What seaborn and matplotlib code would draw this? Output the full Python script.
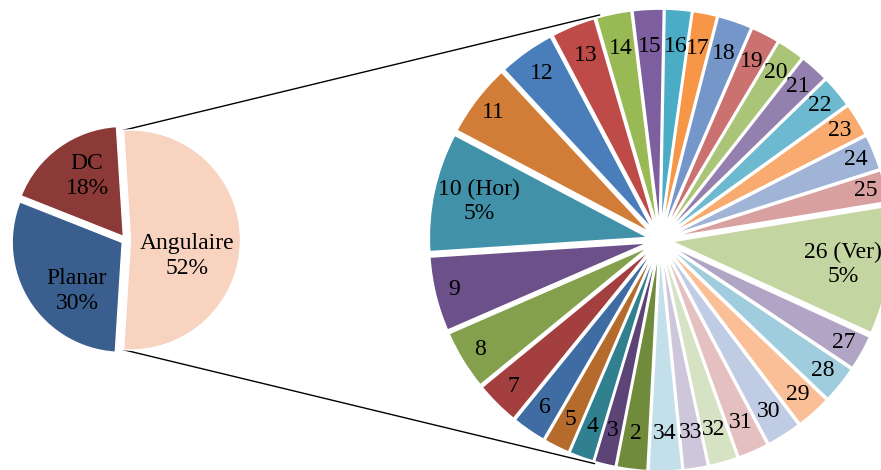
import numpy as np
import matplotlib
from matplotlib import pyplot as plt
import seaborn as sns

sns.set_style("white")
matplotlib.rcParams['font.family'] = ['Liberation Serif', 'DejaVu Serif']
matplotlib.rcParams['font.size'] = 17
matplotlib.rcParams['text.color'] = 'black'

# first pie
main_labels = ['Angulaire', 'Planar', 'DC']
main_values = [52, 30, 18]
main_colors = ['#F8D3C0', '#3A5F8E', '#8B3A38']

# second pie: the split of "Angulaire" into its items (shares in %)
sub_labels = ['2', '3', '4', '5', '6', '7', '8', '9', '10', '11', '12', '13',
              '14', '15', '16', '17', '18', '19', '20', '21', '22', '23', '24',
              '25', '26', '27', '28', '29', '30', '31', '32', '33', '34']
sub_values = [1.16, 0.81, 0.94, 1.00, 1.30, 1.68, 2.28, 2.86, 4.56, 2.79, 2.15,
              1.69, 1.34, 1.16, 1.01, 0.92, 1.30, 1.07, 1.05, 1.11, 1.23, 1.26,
              1.34, 1.21, 4.90, 1.33, 1.42, 1.34, 1.33, 1.17, 1.11, 0.92, 1.26]
sub_tags = {'10': 'Hor', '26': 'Ver'}
sub_colors = ['#6F8B3B', '#5C4476', '#30808F', '#B56B2C', '#3F6DA3', '#A3403F',
              '#84A04C', '#6B5089', '#4192A8', '#D27D37', '#4A7EBB', '#BE4B48',
              '#98B954', '#7D5FA0', '#4BACC6', '#F79646', '#7596C9', '#CB7271',
              '#ABC578', '#9380AF', '#6DB9CF', '#F9AA6E', '#A0B4D7', '#D9A0A0',
              '#C3D5A0', '#B1A5C6', '#A0CDDD', '#FABF96', '#C0CCE3', '#E4C0C0',
              '#D5E2C3', '#CEC6DA', '#C3E0EA']

# layout (pixels, y measured upward)
W, H = 881, 470
c1, r1, ex1 = (126, 230), 110, 4.5
c2, r2, ex2 = (660, 230), 219, 12
main_label_off = {'Angulaire': (61, -16), 'Planar': (-49, -51), 'DC': (-39, 64)}

fig = plt.figure(figsize=(W / 100, H / 100), dpi=100)
ax = fig.add_axes([0, 0, 1, 1])

# split slice centred on the right-hand side
start1 = main_values[0] / sum(main_values) * 360 / 2
w1, _ = ax.pie(main_values, colors=sns.color_palette(main_colors), center=c1,
               radius=r1, explode=[ex1] * 3, startangle=start1,
               counterclock=False,
               wedgeprops=dict(edgecolor='white', linewidth=1))
for lab, val in zip(main_labels, main_values):
    dx, dy = main_label_off[lab]
    ax.text(c1[0] + dx, c1[1] + dy, f'{lab}\n{val}%', ha='center',
            va='center')

w2, _ = ax.pie(sub_values, colors=sns.color_palette(sub_colors), center=c2,
               radius=r2, explode=[ex2] * len(sub_values), startangle=267,
               counterclock=False,
               wedgeprops=dict(edgecolor='white', linewidth=1.2))
for w, lab, val in zip(w2, sub_labels, sub_values):
    th = np.deg2rad((w.theta1 + w.theta2) / 2)
    if lab in sub_tags:
        d = 185
        txt = f'{lab} ({sub_tags[lab]})\n{val:.0f}%'
    else:
        # labels sit a bit deeper in the narrow top / bottom slices
        d = 212 - 18 * np.sin(th) ** 4
        txt = lab
    ax.text(c2[0] + d * np.cos(th), c2[1] + d * np.sin(th), txt, ha='center',
            va='center')

# series lines between the two pies
a0 = np.deg2rad(start1)
top1 = (c1[0] + ex1 + r1 * np.cos(a0), c1[1] + r1 * np.sin(a0))
bot1 = (top1[0], c1[1] - r1 * np.sin(a0))
for p1, ang in [(top1, 105), (bot1, 253.7)]:
    t = np.deg2rad(ang)
    p2 = (c2[0] + 233 * np.cos(t), c2[1] + 233 * np.sin(t))
    ax.plot([p1[0], p2[0]], [p1[1], p2[1]], color='black', lw=1, zorder=0)

ax.set_xlim(0, W)
ax.set_ylim(0, H)
ax.set_aspect('equal')
ax.axis('off')

plt.savefig('out.png', dpi=100)
